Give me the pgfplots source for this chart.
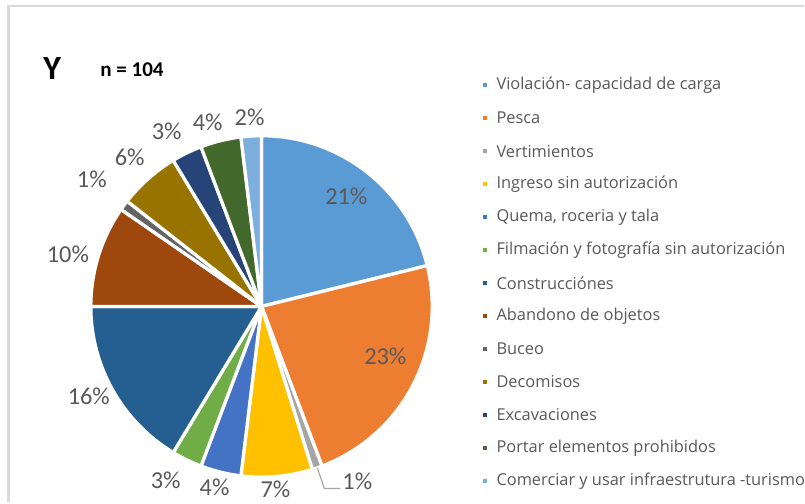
\documentclass[border=0pt]{standalone}
\usepackage{pgfplots}
\pgfplotsset{compat=1.18}
\usepackage{pgfplotstable}
\usepackage{fontspec}
\setmainfont{Carlito}
\newfontfamily\legfont{Open Sans}

% Excel 2013 palette
\definecolor{slice0}{HTML}{5B9BD5}
\definecolor{slice1}{HTML}{ED7D31}
\definecolor{slice2}{HTML}{A5A5A5}
\definecolor{slice3}{HTML}{FFC000}
\definecolor{slice4}{HTML}{4472C4}
\definecolor{slice5}{HTML}{70AD47}
\definecolor{slice6}{HTML}{255E91}
\definecolor{slice7}{HTML}{9E480E}
\definecolor{slice8}{HTML}{636363}
\definecolor{slice9}{HTML}{997300}
\definecolor{slice10}{HTML}{264478}
\definecolor{slice11}{HTML}{43682B}
\definecolor{slice12}{HTML}{7CAFDD}
\definecolor{txtgray}{HTML}{595959}
\definecolor{framegray}{HTML}{D9D9D9}

% counts (n = 104) and label positions
\pgfplotstableread{
n  lx  ly
22 347 197
24 386 357
1  358 482
7  276 490
4  215 488
3  166 481
17 89  397
10 68  255
1  92  180
6  130 158
3  167 132
4  208 123
2  250 118
}\piedata

\def\pxu{0.015cm}
\def\rad{2.565cm}
\def\total{104}

% legend row: y, colour, text
\newcommand\legrow[3]{%
  \fill[#2] (axis cs:484,#1-2) rectangle (axis cs:488,#1+2);
  \node[anchor=west, inner sep=0pt, text=txtgray, font=\legfont\fontsize{7}{8}\selectfont] at (axis cs:497,#1) {#3};}

\begin{document}
\begin{tikzpicture}[lbl/.style={font=\fontsize{10.4}{12}\selectfont, text=txtgray, inner sep=0pt}]
\begin{axis}[
    x=\pxu, y=\pxu,
    xmin=0, xmax=805, ymin=0, ymax=503,
    y dir=reverse,
    hide axis,
    clip=false,
]
\fill[white] (axis cs:0,0) rectangle (axis cs:805,503);
\draw[framegray, line width=0.9pt] (axis cs:8.5,503) -- (axis cs:8.5,6) -- (axis cs:805,6);

\pgfplotstablegetrowsof{\piedata}
\pgfmathtruncatemacro\lastrow{\pgfplotsretval-1}
\def\cum{0}
\pgfplotsforeachungrouped \i in {0,...,\lastrow}{%
  \pgfplotstablegetelem{\i}{n}\of\piedata \let\val\pgfplotsretval
  \pgfplotstablegetelem{\i}{lx}\of\piedata \let\lx\pgfplotsretval
  \pgfplotstablegetelem{\i}{ly}\of\piedata \let\ly\pgfplotsretval
  \pgfmathsetmacro\astart{90-(\cum/\total)*360}
  \pgfmathsetmacro\cum{\cum+\val}
  \pgfmathsetmacro\aend{90-(\cum/\total)*360}
  \pgfmathtruncatemacro\pct{round((\val/\total)*100)}
  \edef\temp{%
    \noexpand\fill[slice\i, draw=white, line width=1.4pt, line join=round]
      (axis cs:262,307) -- ++(\astart:\rad) arc[start angle=\astart, end angle=\aend, radius=\rad] -- cycle;
    \noexpand\node[lbl] at (axis cs:\lx,\ly) {\pct\noexpand\%};}
  \temp
}
\draw[black!35, line width=0.5pt] (axis cs:318,469) -- (axis cs:325,489.5) -- (axis cs:341,489.5);

\node[anchor=base west, inner sep=0pt, font=\bfseries\fontsize{14.5}{16}\selectfont] at (axis cs:43,80) {Y};
\node[anchor=base west, inner sep=0pt, font=\bfseries\fontsize{9}{10}\selectfont] at (axis cs:100,77) {n = 104};

\legrow{85.3}{slice0}{Violación- capacidad de carga}
\legrow{118.3}{slice1}{Pesca}
\legrow{151.4}{slice2}{Vertimientos}
\legrow{184.4}{slice3}{Ingreso sin autorización}
\legrow{217.4}{slice4}{Quema, roceria y tala}
\legrow{250.5}{slice5}{Filmación y fotografía sin autorización}
\legrow{283.5}{slice6}{Construcciónes}
\legrow{316.5}{slice7}{Abandono de objetos}
\legrow{349.5}{slice8}{Buceo}
\legrow{382.6}{slice9}{Decomisos}
\legrow{415.6}{slice10}{Excavaciones}
\legrow{448.6}{slice11}{Portar elementos prohibidos}
\legrow{481.7}{slice12}{Comerciar y usar infraestrutura -turismo}
\end{axis}
\end{tikzpicture}
\end{document}
